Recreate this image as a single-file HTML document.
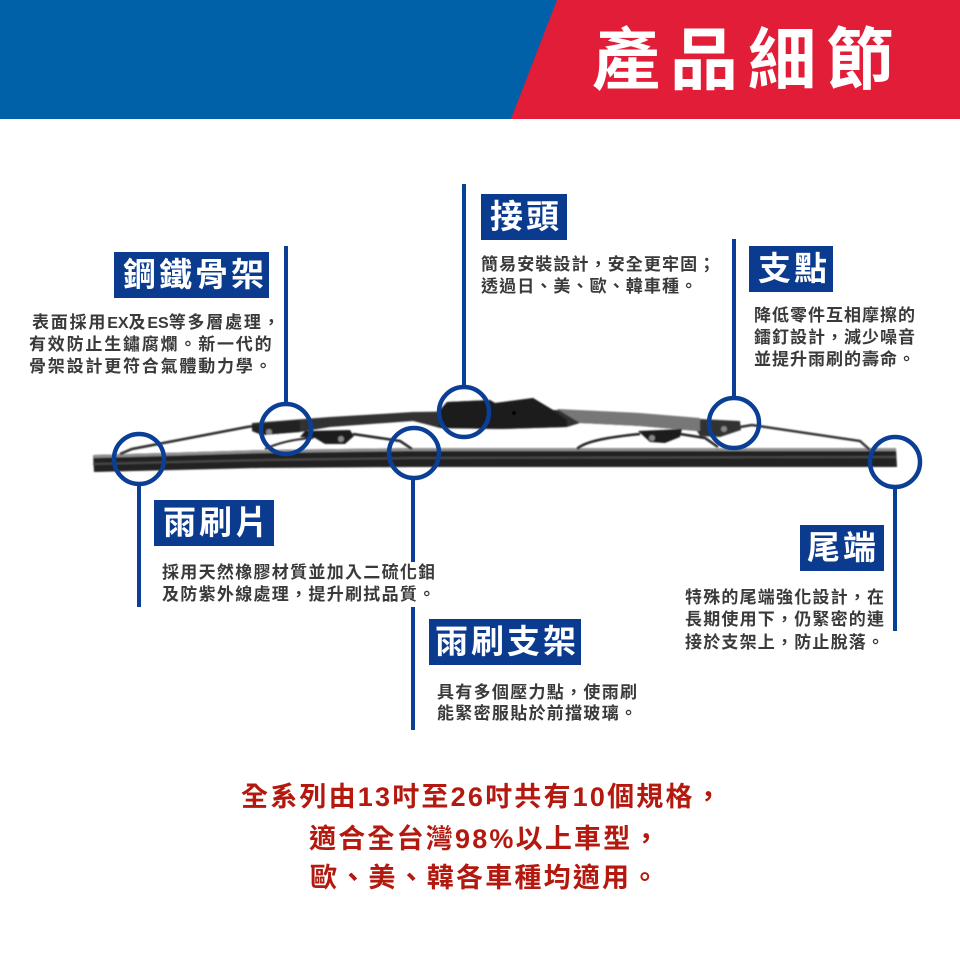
<!DOCTYPE html>
<html lang="zh-Hant">
<head>
<meta charset="utf-8">
<title>產品細節</title>
<style>
html,body{margin:0;padding:0;background:#fff}
#p{position:relative;width:960px;height:960px;overflow:hidden;background:#fff;font-family:"Liberation Sans","Noto Sans CJK TC",sans-serif}
svg{position:absolute;left:0;top:0}
.t{position:absolute;white-space:nowrap;height:22px;line-height:22px;font-size:17px;color:#3a3a3a;font-weight:700}
.t span{letter-spacing:0;font-size:16px}
.b{position:absolute;background:#0b3b8e;color:#fff;font-weight:700;font-size:33px;letter-spacing:3px;white-space:nowrap;line-height:46px;height:46px;box-sizing:border-box}
.r{position:absolute;white-space:nowrap;height:36px;line-height:36px;font-size:27px;letter-spacing:2.2px;color:#b3190f;font-weight:700}
.h{position:absolute;left:592px;top:18px;height:86px;line-height:86px;font-size:68px;letter-spacing:10px;color:#fff;font-weight:700;white-space:nowrap}
</style>
</head>
<body>
<div id="p">
<svg width="960" height="960" viewBox="0 0 960 960">
<defs><filter id="s" x="-5%" y="-20%" width="110%" height="140%"><feGaussianBlur stdDeviation="0.8"/></filter></defs>
<rect x="0" y="0" width="960" height="119" fill="#0060a8"/>
<polygon points="557,0 960,0 960,119 511,119" fill="#e11d38"/>
<g filter="url(#s)">
<polygon points="93,455 263,450 413,448 896,448 897,467 413,467 260,468 94,472" fill="#232323"/>
<polygon points="93,455 263,450 413,448 896,448 896,451 413,451 263,453 93,458" fill="#8f8f8f"/>
<polygon points="93,463 263,459 413,457 896,456 896,458 413,459 263,461 93,465" fill="#4a4a4a"/>
<polyline points="120,454 132,449 247,427 254,426" fill="none" stroke="#2a2a2a" stroke-width="2.5"/>
<polygon points="252,423 330,417 413,412 437,413 447,402 490,400 495,403 533,398 553,410 640,414 700,419 740,421 741,430 720,437 700,436 697,431 640,426 580,423 567,427 500,429 440,428 425,424 413,421 330,427 300,432 262,435 252,431" fill="#333"/>
<polygon points="413,412 560,410 640,414 640,423 580,419 420,420" fill="#333"/>
<polygon points="557,409 640,413 700,418 700,431 640,426 580,423" fill="#777"/>
<polygon points="437,413 447,402 490,400 495,403 533,398 553,410 567,420 567,427 500,429 440,428" fill="#1c1c1c"/>
<polygon points="252,425 300,420 300,432 262,435 252,431" fill="#222"/>
<polyline points="740,427 752,425 860,441 870,450" fill="none" stroke="#333" stroke-width="2.5"/>
<path d="M265,449 C280,442 295,439 313,438" fill="none" stroke="#222" stroke-width="2"/>
<polygon points="305,431 350,430 354,436 345,444 325,444 315,438 300,437" fill="#1c1c1c"/>
<polyline points="353,434 400,441 412,449" fill="none" stroke="#222" stroke-width="2.5"/>
<path d="M577,449 C585,441 610,437 640,434" fill="none" stroke="#222" stroke-width="2.5"/>
<polygon points="638,431 682,429 680,437 665,443 650,442" fill="#1c1c1c"/>
<polyline points="680,434 705,438 718,447" fill="none" stroke="#222" stroke-width="2.5"/>
<circle cx="269" cy="432" r="3" fill="#888"/>
<circle cx="341" cy="439" r="3" fill="#888"/>
<circle cx="652" cy="438" r="3" fill="#888"/>
<circle cx="724" cy="429" r="3" fill="#888"/>
<circle cx="514" cy="413" r="2" fill="#000"/>
</g>
<g fill="none" stroke="#0b3f96" stroke-width="4.5">
<circle cx="139" cy="459" r="25"/>
<circle cx="286" cy="429" r="25"/>
<circle cx="414" cy="453" r="25"/>
<circle cx="464" cy="412" r="25"/>
<circle cx="734" cy="423" r="25"/>
<circle cx="895" cy="462" r="25"/>
</g>
<g fill="#0b3f96">
<rect x="284" y="246" width="4" height="158"/>
<rect x="462" y="184" width="4" height="203"/>
<rect x="732" y="239" width="4" height="159"/>
<rect x="137" y="486" width="4" height="121"/>
<rect x="411" y="480" width="4" height="82"/>
<rect x="411" y="607" width="4" height="123"/>
<rect x="893" y="487" width="4" height="144"/>
</g>
</svg>

<div class="h">產品細節</div>

<div class="b" style="left:114px;top:252px;width:155px;padding-left:9px">鋼鐵骨架</div>
<div class="b" style="left:481px;top:194px;width:86px;padding-left:9px">接頭</div>
<div class="b" style="left:749px;top:246px;width:84px;padding-left:9px">支點</div>
<div class="b" style="left:154px;top:500px;width:120px;padding-left:9px">雨刷片</div>
<div class="b" style="left:429px;top:619px;width:152px;padding-left:6px">雨刷支架</div>
<div class="b" style="left:800px;top:525px;width:84px;padding-left:7px">尾端</div>

<div class="t" style="left:32px;top:312px;letter-spacing:1.8px">表面採用<span>EX</span>及<span>ES</span>等多層處理，</div>
<div class="t" style="left:29px;top:334px;letter-spacing:1.8px">有效防止生鏽腐爛。新一代的</div>
<div class="t" style="left:29px;top:356px;letter-spacing:1.8px">骨架設計更符合氣體動力學。</div>

<div class="t" style="left:481px;top:254px;letter-spacing:1.1px">簡易安裝設計，安全更牢固；</div>
<div class="t" style="left:481px;top:276px;letter-spacing:1.1px">透過日、美、歐、韓車種。</div>

<div class="t" style="left:754px;top:305px;letter-spacing:1px">降低零件互相摩擦的</div>
<div class="t" style="left:754px;top:327px;letter-spacing:1px">鐳釘設計，減少噪音</div>
<div class="t" style="left:754px;top:349px;letter-spacing:1px">並提升雨刷的壽命。</div>

<div class="t" style="left:162px;top:562px;letter-spacing:1.3px">採用天然橡膠材質並加入二硫化鉬</div>
<div class="t" style="left:162px;top:584px;letter-spacing:1.3px">及防紫外線處理，提升刷拭品質。</div>

<div class="t" style="left:437px;top:682px;letter-spacing:1.3px">具有多個壓力點，使雨刷</div>
<div class="t" style="left:437px;top:703px;letter-spacing:1.3px">能緊密服貼於前擋玻璃。</div>

<div class="t" style="left:685px;top:587px;letter-spacing:1.2px">特殊的尾端強化設計，在</div>
<div class="t" style="left:685px;top:609px;letter-spacing:1.2px">長期使用下，仍緊密的連</div>
<div class="t" style="left:685px;top:632px;letter-spacing:1.2px">接於支架上，防止脫落。</div>

<div class="r" style="left:241px;top:779px">全系列由13吋至26吋共有10個規格，</div>
<div class="r" style="left:309px;top:821px">適合全台灣98%以上車型，</div>
<div class="r" style="left:310px;top:860px">歐、美、韓各車種均適用。</div>
</div>
</body>
</html>
